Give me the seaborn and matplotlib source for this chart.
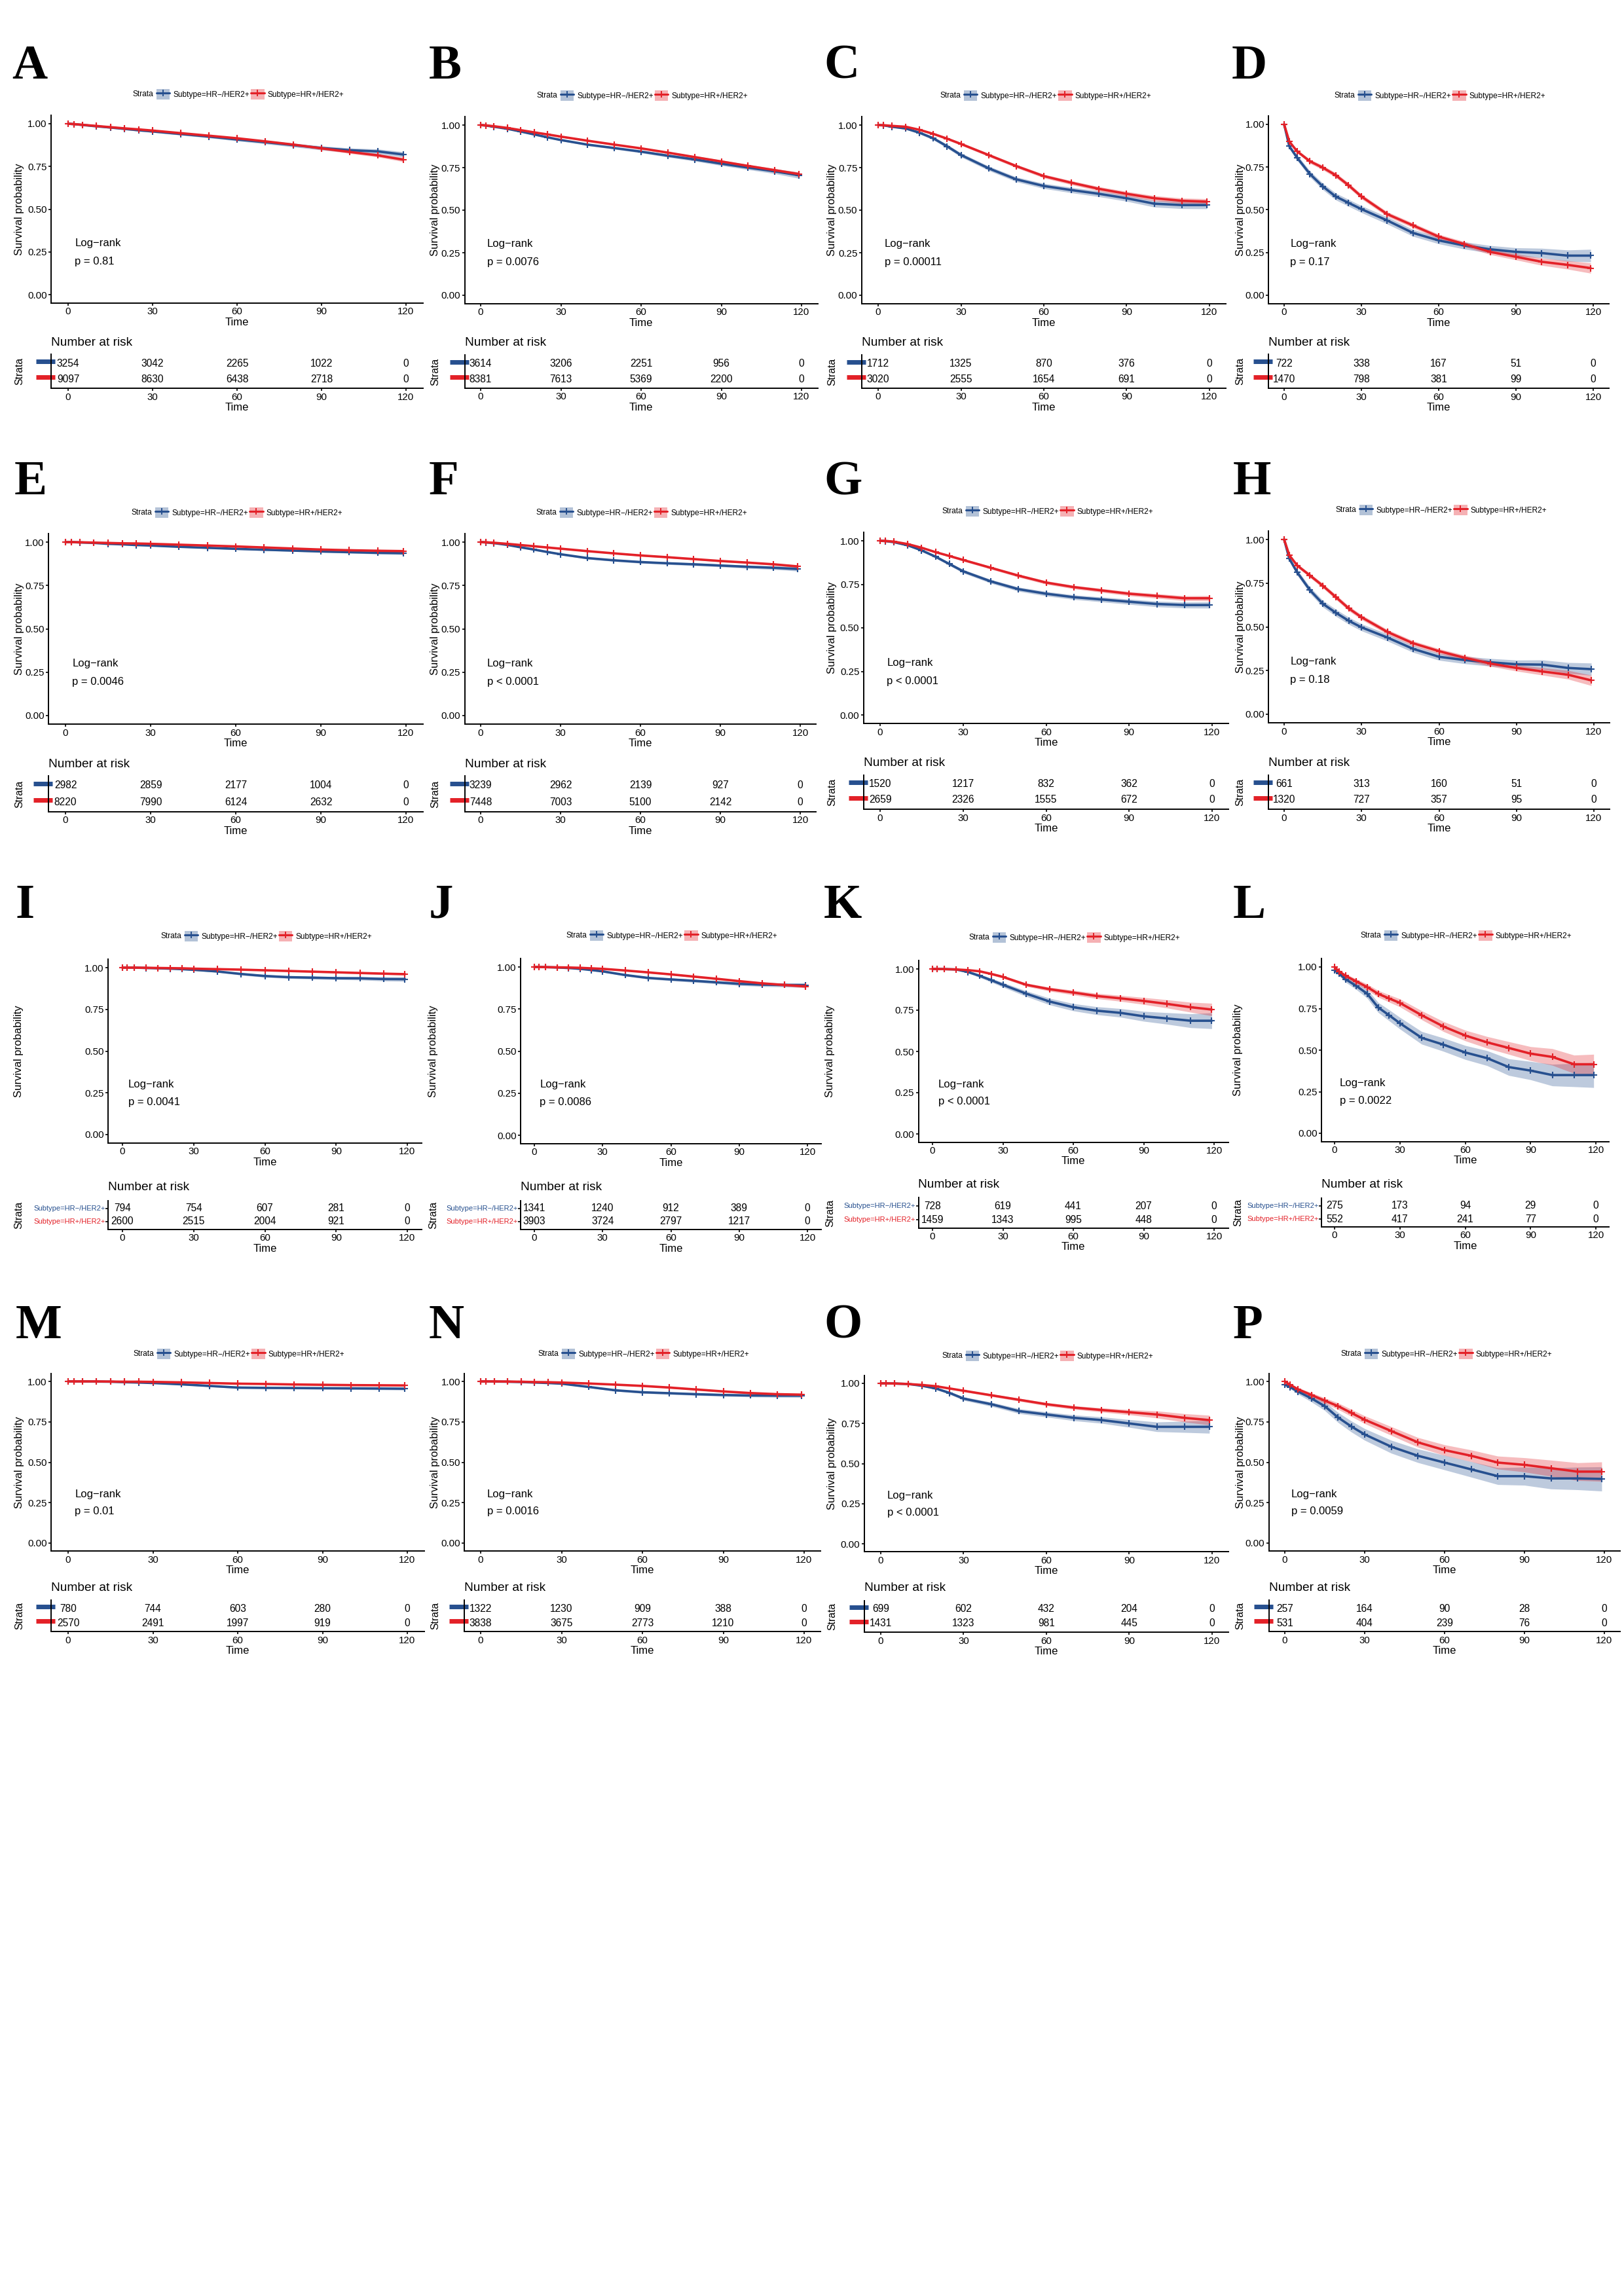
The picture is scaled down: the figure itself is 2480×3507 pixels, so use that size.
import matplotlib
matplotlib.use("Agg")
import matplotlib.pyplot as plt
import matplotlib.transforms as mtransforms
from matplotlib.patches import Patch
from matplotlib.lines import Line2D
import numpy as np
import pandas as pd
import seaborn as sns

# ---------------------------------------------------------------- data
TIME = [0, 2, 5, 10, 15, 20, 25, 30, 40, 50, 60, 70, 80, 90, 100, 110, 119]
RISK_TIMES = [0, 30, 60, 90, 120]
X_TICKS = [0, 30, 60, 90, 120]
Y_TICKS = [0.0, 0.25, 0.5, 0.75, 1.0]
Y_TICK_LABELS = ["0.00", "0.25", "0.50", "0.75", "1.00"]
GROUP_LABELS = ["Subtype=HR\u2212/HER2+", "Subtype=HR+/HER2+"]

A_surv_neg = [1.0, .998, .993, .985, .978, .970, .962, .955, .940, .925, .908, .892, .875, .858, .845, .838, .820]
A_surv_pos = [1.0, .998, .994, .987, .980, .973, .967, .960, .945, .930, .915, .897, .878, .856, .835, .815, .790]
A_ci_neg = [0, .002, .003, .004, .005, .005, .006, .006, .007, .008, .009, .010, .011, .012, .013, .014, .016]
A_ci_pos = [0, .001, .002, .002, .003, .003, .003, .004, .004, .005, .005, .006, .007, .008, .009, .010, .012]
A_risk_neg = [3254, 3042, 2265, 1022, 0]
A_risk_pos = [9097, 8630, 6438, 2718, 0]
A_p = "p = 0.81"

B_surv_neg = [1.0, .997, .990, .978, .962, .945, .928, .912, .885, .865, .844, .820, .798, .773, .750, .728, .705]
B_surv_pos = [1.0, .998, .993, .983, .970, .957, .945, .932, .908, .885, .863, .838, .812, .786, .760, .735, .712]
B_ci_neg = [0, .001, .002, .003, .004, .004, .005, .005, .006, .007, .008, .009, .010, .011, .012, .014, .018]
B_ci_pos = [0, .001, .001, .002, .003, .003, .003, .004, .004, .005, .005, .006, .007, .008, .008, .009, .011]
B_risk_neg = [3614, 3206, 2251, 956, 0]
B_risk_pos = [8381, 7613, 5369, 2200, 0]
B_p = "p = 0.0076"

C_surv_neg = [1.0, .998, .990, .980, .955, .922, .875, .824, .746, .681, .642, .618, .596, .570, .538, .530, .530]
C_surv_pos = [1.0, .999, .995, .990, .972, .948, .920, .889, .824, .759, .700, .661, .625, .596, .570, .555, .550]
C_ci_neg = [0, .002, .004, .006, .008, .010, .011, .012, .013, .014, .015, .016, .017, .018, .020, .021, .022]
C_ci_pos = [0, .001, .002, .003, .005, .006, .007, .008, .009, .010, .011, .012, .013, .014, .015, .016, .017]
C_risk_neg = [1712, 1325, 870, 376, 0]
C_risk_pos = [3020, 2555, 1654, 691, 0]
C_p = "p = 0.00011"

D_surv_neg = [1.0, .872, .806, .710, .637, .578, .541, .504, .438, .365, .321, .291, .269, .254, .247, .232, .232]
D_surv_pos = [1.0, .900, .843, .784, .747, .703, .644, .578, .475, .409, .343, .299, .254, .225, .196, .178, .159]
D_ci_neg = [0, .013, .016, .018, .019, .020, .020, .020, .021, .020, .020, .021, .022, .024, .028, .033, .037]
D_ci_pos = [0, .008, .010, .012, .013, .014, .014, .014, .014, .014, .014, .015, .016, .018, .021, .025, .030]
D_risk_neg = [722, 338, 167, 51, 0]
D_risk_pos = [1470, 798, 381, 99, 0]
D_p = "p = 0.17"

E_surv_neg = [1.0, 1.0, .998, .995, .990, .987, .983, .980, .973, .967, .961, .956, .951, .946, .942, .938, .936]
E_surv_pos = [1.0, 1.0, .999, .997, .995, .993, .992, .990, .985, .980, .975, .969, .963, .957, .953, .950, .948]
E_ci_neg = [0, .001, .001, .002, .002, .003, .003, .003, .004, .004, .004, .005, .005, .005, .006, .007, .008]
E_ci_pos = [0, 0, .001, .001, .001, .001, .002, .002, .002, .002, .003, .003, .003, .003, .004, .004, .005]
E_risk_neg = [2982, 2859, 2177, 1004, 0]
E_risk_pos = [8220, 7990, 6124, 2632, 0]
E_p = "p = 0.0046"

F_surv_neg = [1.0, .998, .994, .984, .970, .957, .943, .930, .908, .895, .885, .878, .872, .865, .858, .852, .845]
F_surv_pos = [1.0, .999, .996, .990, .983, .976, .969, .962, .948, .935, .923, .913, .902, .891, .882, .872, .860]
F_ci_neg = [0, .001, .002, .003, .004, .004, .005, .005, .006, .006, .007, .007, .008, .008, .009, .010, .012]
F_ci_pos = [0, 0, .001, .001, .002, .002, .002, .003, .003, .003, .004, .004, .004, .005, .005, .006, .007]
F_risk_neg = [3239, 2962, 2139, 927, 0]
F_risk_pos = [7448, 7003, 5100, 2142, 0]
F_p = "p < 0.0001"

G_surv_neg = [1.0, .998, .992, .974, .945, .909, .867, .825, .767, .722, .696, .676, .663, .650, .637, .631, .631]
G_surv_pos = [1.0, .999, .995, .981, .960, .935, .913, .890, .845, .800, .760, .734, .715, .696, .683, .670, .670]
G_ci_neg = [0, .002, .003, .005, .007, .008, .009, .010, .011, .012, .013, .013, .014, .015, .016, .017, .018]
G_ci_pos = [0, .001, .002, .003, .004, .005, .006, .007, .008, .009, .010, .010, .011, .012, .013, .014, .015]
G_risk_neg = [1520, 1217, 832, 362, 0]
G_risk_pos = [2659, 2326, 1555, 672, 0]
G_p = "p < 0.0001"

H_surv_neg = [1.0, .890, .813, .710, .632, .581, .535, .497, .439, .374, .329, .310, .297, .286, .284, .265, .258]
H_surv_pos = [1.0, .910, .852, .794, .735, .671, .606, .555, .471, .406, .361, .323, .290, .265, .245, .226, .194]
H_ci_neg = [0, .013, .016, .018, .019, .020, .020, .020, .020, .020, .020, .021, .022, .024, .027, .031, .035]
H_ci_pos = [0, .008, .010, .012, .013, .014, .014, .014, .014, .014, .014, .015, .016, .018, .021, .025, .030]
H_risk_neg = [661, 313, 160, 51, 0]
H_risk_pos = [1320, 727, 357, 95, 0]
H_p = "p = 0.18"

I_surv_neg = [1.0, 1.0, 1.0, .998, .996, .994, .991, .987, .977, .962, .950, .943, .940, .937, .936, .932, .931]
I_surv_pos = [1.0, 1.0, 1.0, .999, .998, .997, .996, .994, .991, .988, .984, .980, .976, .972, .968, .964, .961]
I_ci_neg = [0, 0, 0, .001, .002, .003, .003, .004, .005, .007, .008, .008, .009, .009, .010, .012, .013]
I_ci_pos = [0, 0, 0, 0, .001, .001, .001, .002, .002, .003, .003, .004, .004, .004, .005, .005, .006]
I_risk_neg = [794, 754, 607, 281, 0]
I_risk_pos = [2600, 2515, 2004, 921, 0]
I_p = "p = 0.0041"

J_surv_neg = [1.0, 1.0, .999, .997, .994, .989, .982, .974, .952, .935, .926, .918, .909, .900, .895, .893, .892]
J_surv_pos = [1.0, 1.0, .999, .998, .997, .995, .992, .989, .979, .968, .956, .943, .930, .916, .903, .893, .885]
J_ci_neg = [0, 0, .001, .002, .002, .003, .004, .005, .006, .007, .008, .009, .009, .010, .011, .012, .013]
J_ci_pos = [0, 0, 0, .001, .001, .001, .002, .002, .003, .004, .004, .005, .006, .006, .007, .008, .009]
J_risk_neg = [1341, 1240, 912, 389, 0]
J_risk_pos = [3903, 3724, 2797, 1217, 0]
J_p = "p = 0.0086"

K_surv_neg = [1.0, 1.0, .999, .997, .982, .959, .932, .904, .850, .802, .768, .747, .734, .713, .700, .686, .686]
K_surv_pos = [1.0, 1.0, .999, .997, .993, .986, .970, .952, .904, .877, .857, .836, .822, .806, .788, .768, .754]
K_ci_neg = [0, 0, .002, .004, .007, .010, .012, .014, .017, .020, .022, .024, .026, .030, .035, .042, .048]
K_ci_pos = [0, 0, .001, .002, .004, .005, .007, .008, .010, .012, .014, .016, .018, .021, .025, .030, .038]
K_risk_neg = [728, 619, 441, 207, 0]
K_risk_pos = [1459, 1343, 995, 448, 0]
K_p = "p < 0.0001"

L_surv_neg = [.980, .961, .927, .886, .839, .757, .710, .662, .574, .533, .486, .452, .398, .377, .350, .350, .350]
L_surv_pos = [1.0, .974, .947, .913, .879, .839, .811, .784, .710, .642, .588, .547, .513, .479, .459, .415, .415]
L_ci_neg = [0, .012, .018, .022, .027, .030, .033, .035, .038, .040, .042, .045, .050, .055, .065, .070, .075]
L_ci_pos = [0, .008, .012, .015, .018, .020, .022, .024, .027, .030, .032, .035, .038, .042, .050, .055, .060]
L_risk_neg = [275, 173, 94, 29, 0]
L_risk_pos = [552, 417, 241, 77, 0]
L_p = "p = 0.0022"

M_surv_neg = [1.0, 1.0, 1.0, .999, .998, .995, .993, .990, .982, .972, .962, .960, .959, .958, .957, .956, .955]
M_surv_pos = [1.0, 1.0, 1.0, 1.0, .999, .998, .998, .997, .994, .990, .986, .984, .981, .979, .977, .976, .975]
M_ci_neg = [0, 0, 0, .001, .001, .002, .002, .003, .004, .005, .006, .006, .006, .007, .007, .008, .009]
M_ci_pos = [0, 0, 0, 0, .001, .001, .001, .001, .002, .002, .002, .003, .003, .003, .003, .004, .004]
M_risk_neg = [780, 744, 603, 280, 0]
M_risk_pos = [2570, 2491, 1997, 919, 0]
M_p = "p = 0.01"

N_surv_neg = [1.0, 1.0, .999, .998, .996, .993, .990, .986, .966, .945, .933, .927, .921, .916, .913, .912, .912]
N_surv_pos = [1.0, 1.0, 1.0, .999, .998, .996, .995, .993, .987, .980, .972, .962, .950, .938, .928, .921, .918]
N_ci_neg = [0, 0, .001, .001, .002, .002, .003, .003, .005, .006, .007, .007, .008, .008, .009, .010, .011]
N_ci_pos = [0, 0, 0, .001, .001, .001, .001, .002, .002, .003, .003, .004, .004, .005, .005, .006, .007]
N_risk_neg = [1322, 1230, 909, 388, 0]
N_risk_pos = [3838, 3675, 2773, 1210, 0]
N_p = "p = 0.0016"

O_surv_neg = [1.0, 1.0, .999, .996, .985, .968, .940, .905, .870, .827, .806, .785, .771, .750, .729, .729, .729]
O_surv_pos = [1.0, 1.0, .999, .996, .990, .982, .968, .954, .926, .898, .870, .849, .834, .820, .806, .785, .771]
O_ci_neg = [0, 0, .002, .003, .005, .007, .009, .011, .013, .015, .016, .018, .020, .024, .030, .035, .040]
O_ci_pos = [0, 0, .001, .002, .003, .004, .005, .006, .008, .009, .010, .011, .013, .016, .022, .026, .030]
O_risk_neg = [699, 602, 432, 204, 0]
O_risk_pos = [1431, 1323, 981, 445, 0]
O_p = "p < 0.0001"

P_surv_neg = [.980, .965, .937, .895, .847, .777, .721, .672, .596, .540, .498, .456, .414, .414, .400, .400, .397]
P_surv_pos = [1.0, .979, .951, .916, .881, .847, .805, .763, .693, .623, .575, .540, .498, .484, .463, .442, .442]
P_ci_neg = [0, .010, .016, .022, .027, .031, .034, .036, .040, .042, .045, .048, .052, .056, .065, .070, .075]
P_ci_pos = [0, .006, .010, .014, .017, .020, .022, .024, .027, .030, .033, .036, .040, .044, .050, .055, .060]
P_risk_neg = [257, 164, 90, 28, 0]
P_risk_pos = [531, 404, 239, 76, 0]
P_p = "p = 0.0059"

PANELS = [
    ("A", A_surv_neg, A_surv_pos, A_ci_neg, A_ci_pos, A_risk_neg, A_risk_pos, A_p),
    ("B", B_surv_neg, B_surv_pos, B_ci_neg, B_ci_pos, B_risk_neg, B_risk_pos, B_p),
    ("C", C_surv_neg, C_surv_pos, C_ci_neg, C_ci_pos, C_risk_neg, C_risk_pos, C_p),
    ("D", D_surv_neg, D_surv_pos, D_ci_neg, D_ci_pos, D_risk_neg, D_risk_pos, D_p),
    ("E", E_surv_neg, E_surv_pos, E_ci_neg, E_ci_pos, E_risk_neg, E_risk_pos, E_p),
    ("F", F_surv_neg, F_surv_pos, F_ci_neg, F_ci_pos, F_risk_neg, F_risk_pos, F_p),
    ("G", G_surv_neg, G_surv_pos, G_ci_neg, G_ci_pos, G_risk_neg, G_risk_pos, G_p),
    ("H", H_surv_neg, H_surv_pos, H_ci_neg, H_ci_pos, H_risk_neg, H_risk_pos, H_p),
    ("I", I_surv_neg, I_surv_pos, I_ci_neg, I_ci_pos, I_risk_neg, I_risk_pos, I_p),
    ("J", J_surv_neg, J_surv_pos, J_ci_neg, J_ci_pos, J_risk_neg, J_risk_pos, J_p),
    ("K", K_surv_neg, K_surv_pos, K_ci_neg, K_ci_pos, K_risk_neg, K_risk_pos, K_p),
    ("L", L_surv_neg, L_surv_pos, L_ci_neg, L_ci_pos, L_risk_neg, L_risk_pos, L_p),
    ("M", M_surv_neg, M_surv_pos, M_ci_neg, M_ci_pos, M_risk_neg, M_risk_pos, M_p),
    ("N", N_surv_neg, N_surv_pos, N_ci_neg, N_ci_pos, N_risk_neg, N_risk_pos, N_p),
    ("O", O_surv_neg, O_surv_pos, O_ci_neg, O_ci_pos, O_risk_neg, O_risk_pos, O_p),
    ("P", P_surv_neg, P_surv_pos, P_ci_neg, P_ci_pos, P_risk_neg, P_risk_pos, P_p),
]

# ---------------------------------------------------------------- layout (pixels)
# x of t=0, x of t=120, y of S=1, y of S=0, risk row1 y, risk row2 y,
# legend centre x, legend y, letter x, letter baseline y, column label x, text labels in table
LAYOUT = {
    "A": (104, 620, 189, 450, 555, 579, 363, 144, 18, 120, 30, False),
    "B": (734, 1224, 191, 451, 556, 579, 980, 146, 655, 120, 665, False),
    "C": (1341, 1847, 191, 451, 556, 579, 1596, 146, 1258, 120, 1271, False),
    "D": (1961, 2433, 190, 451, 555, 579, 2198, 146, 1881, 120, 1894, False),
    "E": (100, 620, 828, 1093, 1200, 1225, 361, 783, 22, 755, 30, False),
    "F": (734, 1222, 828, 1093, 1200, 1225, 979, 783, 655, 755, 665, False),
    "G": (1344, 1851, 826, 1092, 1198, 1222, 1599, 781, 1258, 755, 1271, False),
    "H": (1961, 2434, 824, 1091, 1198, 1222, 2200, 779, 1883, 755, 1894, False),
    "I": (187, 622, 1478, 1733, 1846, 1866, 406, 1430, 24, 1402, 29, True),
    "J": (816, 1233, 1477, 1734, 1846, 1866, 1025, 1429, 655, 1402, 662, True),
    "K": (1424, 1854, 1480, 1732, 1842, 1863, 1640, 1432, 1258, 1402, 1268, True),
    "L": (2038, 2437, 1477, 1731, 1842, 1862, 2238, 1429, 1883, 1402, 1891, True),
    "M": (104, 622, 2110, 2357, 2457, 2479, 364, 2068, 24, 2044, 30, False),
    "N": (734, 1228, 2110, 2357, 2457, 2479, 982, 2068, 655, 2044, 665, False),
    "O": (1345, 1851, 2113, 2358, 2458, 2480, 1599, 2071, 1258, 2044, 1271, False),
    "P": (1962, 2450, 2110, 2357, 2457, 2479, 2208, 2068, 1883, 2044, 1894, False),
}

DPI = 200
FIG_W, FIG_H = 2480, 3507
BLUE = "#27508F"
RED = "#E32128"

sns.set_theme(style="ticks")
plt.rcParams["font.family"] = ["Liberation Sans", "DejaVu Sans"]
plt.rcParams["axes.edgecolor"] = "black"
plt.rcParams["axes.linewidth"] = 0.7
plt.rcParams["xtick.color"] = "black"
plt.rcParams["ytick.color"] = "black"
plt.rcParams["text.color"] = "black"
plt.rcParams["axes.labelcolor"] = "black"

fig = plt.figure(figsize=(FIG_W / DPI, FIG_H / DPI), dpi=DPI)
fig.patch.set_facecolor("white")


def rect(l, t, r, b):
    return [l / FIG_W, 1 - b / FIG_H, (r - l) / FIG_W, (b - t) / FIG_H]


def style_axis(ax):
    sns.despine(ax=ax)
    ax.set_xlim(-6, 126)
    ax.set_xticks(X_TICKS)
    ax.set_xticklabels([str(v) for v in X_TICKS])
    ax.tick_params(axis="both", labelsize=5.4, length=1.5, width=0.6, pad=0.8)
    ax.set_xlabel("Time", fontsize=6, labelpad=0.5)
    ax.set_ylabel("")


legends = []
for letter, s_neg, s_pos, c_neg, c_pos, r_neg, r_pos, ptxt in PANELS:
    x0, x120, y100, y000, r1, r2, lcx, lcy, letx, lety, colx, textlab = LAYOUT[letter]
    ppu = (x120 - x0) / 120.0
    left, right = x0 - 6 * ppu, x120 + 6 * ppu
    span = y000 - y100
    top, bot = y100 - 0.05 * span, y000 + 0.05 * span

    # ---- survival curves
    ax = fig.add_axes(rect(left, top, right, bot))
    for surv, ci, col in ((s_neg, c_neg, BLUE), (s_pos, c_pos, RED)):
        s = np.array(surv)
        c = np.array(ci)
        ax.fill_between(TIME, s - c, s + c, color=col, alpha=0.3, linewidth=0)
    for surv, col in ((s_neg, BLUE), (s_pos, RED)):
        df = pd.DataFrame({"Time": TIME, "Survival": surv})
        sns.lineplot(data=df, x="Time", y="Survival", ax=ax, color=col, linewidth=1.3,
                     marker="+", markersize=3.8, markeredgewidth=0.75, markeredgecolor=col,
                     errorbar=None, sort=False, legend=False)
    style_axis(ax)
    ax.set_ylim(-0.05, 1.05)
    ax.set_yticks(Y_TICKS)
    ax.set_yticklabels(Y_TICK_LABELS)
    ax.text(2.4, 0.30, "Log\u2212rank", fontsize=6, ha="left", va="center")
    ax.text(2.4, 0.195, ptxt, fontsize=6, ha="left", va="center")
    fig.text(colx / FIG_W, 1 - ((top + bot) / 2) / FIG_H, "Survival probability",
             rotation=90, fontsize=6, ha="center", va="center")

    # ---- legend
    handles = [
        (Patch(facecolor=BLUE, alpha=0.35, edgecolor="none"),
         Line2D([], [], color=BLUE, lw=1.1, marker="+", ms=3.6, mew=0.7)),
        (Patch(facecolor=RED, alpha=0.35, edgecolor="none"),
         Line2D([], [], color=RED, lw=1.1, marker="+", ms=3.6, mew=0.7)),
    ]
    leg = fig.legend(handles, GROUP_LABELS, loc="center",
                     bbox_to_anchor=((lcx + 19) / FIG_W, 1 - lcy / FIG_H),
                     ncol=2, fontsize=4.3, frameon=False, handlelength=1.7,
                     handleheight=1.7, handletextpad=0.4, columnspacing=0.2,
                     borderpad=0, borderaxespad=0)
    legends.append(leg)

    # ---- panel letter
    fig.text(letx / FIG_W, 1 - lety / FIG_H, letter, fontsize=27, fontweight="bold",
             family=["Liberation Serif", "DejaVu Serif"], ha="left", va="baseline")

    # ---- risk table
    d = r2 - r1
    ttop, tbot = r1 - 0.6 * d, r2 + 0.6 * d
    tab = fig.add_axes(rect(left, ttop, right, tbot))
    tab.set_facecolor("none")
    style_axis(tab)
    tab.set_ylim(0.4, 2.6)
    tab.set_yticks([1, 2])
    tab.set_yticklabels(["", ""])
    for t, n in zip(RISK_TIMES, r_neg):
        tab.text(t, 2, str(n), ha="center", va="center", fontsize=5.6)
    for t, n in zip(RISK_TIMES, r_pos):
        tab.text(t, 1, str(n), ha="center", va="center", fontsize=5.6)
    w = right - left
    trans = mtransforms.blended_transform_factory(tab.transAxes, tab.transData)
    if textlab:
        tab.text(-4.5 / w, 2, GROUP_LABELS[0], transform=trans, ha="right", va="center",
                 fontsize=4.0, color=BLUE)
        tab.text(-4.5 / w, 1, GROUP_LABELS[1], transform=trans, ha="right", va="center",
                 fontsize=4.0, color=RED)
    else:
        tab.tick_params(axis="y", length=0)
        tab.plot([-23 / w, 6 / w], [2.12, 2.12], transform=trans, color=BLUE, lw=2.5,
                 clip_on=False, solid_capstyle="butt")
        tab.plot([-23 / w, 6 / w], [1.12, 1.12], transform=trans, color=RED, lw=2.5,
                 clip_on=False, solid_capstyle="butt")
    fig.text(left / FIG_W, 1 - (r1 - 32) / FIG_H, "Number at risk", fontsize=6.9,
             ha="left", va="center")
    fig.text(colx / FIG_W, 1 - ((r1 + r2) / 2) / FIG_H, "Strata", rotation=90,
             fontsize=5.7, ha="center", va="center")

# ---- "Strata" titles to the left of each legend
fig.canvas.draw()
renderer = fig.canvas.get_renderer()
for leg in legends:
    bb = leg.get_window_extent(renderer)
    fig.text((bb.x0 - 5) / FIG_W, ((bb.y0 + bb.y1) / 2) / FIG_H, "Strata",
             fontsize=4.3, ha="right", va="center")

fig.savefig("out.png", dpi=DPI, facecolor="white")
